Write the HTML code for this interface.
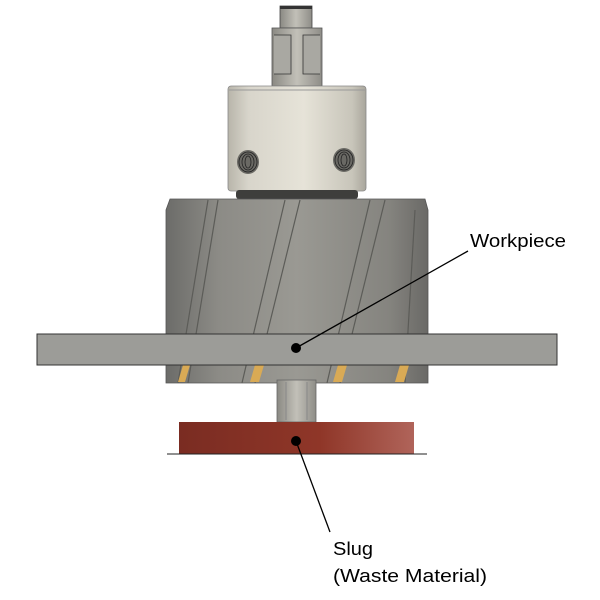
<!DOCTYPE html>
<html><head><style>body{margin:0;background:#fff}svg{display:block}</style></head><body>
<svg width="600" height="600" viewBox="0 0 600 600" xmlns="http://www.w3.org/2000/svg">
<defs>
<linearGradient id="cyl" x1="0" x2="1"><stop offset="0" stop-color="#b8b5aa"/><stop offset="0.15" stop-color="#d8d5cb"/><stop offset="0.55" stop-color="#e6e3d8"/><stop offset="0.9" stop-color="#c8c5ba"/><stop offset="1" stop-color="#a9a69c"/></linearGradient>
<linearGradient id="cut" x1="0" x2="1"><stop offset="0" stop-color="#6c6c69"/><stop offset="0.2" stop-color="#8c8b86"/><stop offset="0.5" stop-color="#9a9993"/><stop offset="0.85" stop-color="#85847f"/><stop offset="1" stop-color="#6a6966"/></linearGradient>
<linearGradient id="slug" x1="0" x2="1"><stop offset="0" stop-color="#7a2c22"/><stop offset="0.6" stop-color="#8f3628"/><stop offset="1" stop-color="#b0645a"/></linearGradient>
<linearGradient id="nut" x1="0" x2="1"><stop offset="0" stop-color="#8a8983"/><stop offset="0.5" stop-color="#c2c0b8"/><stop offset="1" stop-color="#8e8d87"/></linearGradient>
</defs>
<rect x="280" y="6" width="32" height="22" fill="url(#nut)" stroke="#444" stroke-width="0.8"/>
<rect x="280" y="6" width="32" height="3" fill="#333"/>
<rect x="272" y="28" width="50" height="58" fill="url(#nut)" stroke="#555" stroke-width="0.8"/>
<path d="M274 35 L291 35 L291 74 L274 74" fill="#a9a8a2" stroke="#333" stroke-width="0.8"/>
<path d="M320 35 L303 35 L303 74 L320 74" fill="#a9a8a2" stroke="#333" stroke-width="0.8"/>
<rect x="228" y="86" width="138" height="105" rx="3" fill="url(#cyl)" stroke="#888" stroke-width="0.8"/>
<line x1="229" y1="90" x2="365" y2="90" stroke="#999"/>
<ellipse cx="248" cy="162" rx="11" ry="12" fill="#6a6964"/>
<ellipse cx="344" cy="160" rx="11" ry="12" fill="#6a6964"/>
<g stroke="#222" stroke-width="0.8" fill="none">
<ellipse cx="248" cy="162" rx="9" ry="10"/><ellipse cx="248" cy="162" rx="6" ry="8"/><ellipse cx="248" cy="162" rx="3" ry="6"/>
<ellipse cx="344" cy="160" rx="9" ry="10"/><ellipse cx="344" cy="160" rx="6" ry="8"/><ellipse cx="344" cy="160" rx="3" ry="6"/>
</g>
<rect x="236" y="190" width="122" height="9" rx="3" fill="#3e3e3c"/>
<path d="M170 199 L425 199 L428 210 L428 383 L166 383 L166 210 Z" fill="url(#cut)" stroke="#555" stroke-width="0.8"/>
<g stroke="#5c5c58" stroke-width="1.2" fill="none">
<path d="M208 200 L178 383"/><path d="M218 200 L188 383"/>
<path d="M285 200 L242 383"/><path d="M300 200 L255 383"/>
<path d="M370 200 L327 383"/><path d="M385 200 L340 383"/>
<path d="M415 210 L405 383"/>
</g>
<g fill="#d9aa55">
<polygon points="183,365 190,365 185,382 178,382"/><polygon points="255,365 264,365 259,382 250,382"/>
<polygon points="338,365 347,365 342,382 333,382"/><polygon points="400,365 409,365 404,382 395,382"/>
</g>
<rect x="277" y="380" width="39" height="42" fill="url(#nut)" stroke="#666" stroke-width="0.8"/>
<line x1="286" y1="382" x2="286" y2="420" stroke="#888"/><line x1="307" y1="382" x2="307" y2="420" stroke="#888"/>
<rect x="37" y="334" width="520" height="31" fill="#9c9c98" stroke="#333" stroke-width="1"/>
<rect x="179" y="422" width="235" height="32" fill="url(#slug)"/>
<line x1="167" y1="454" x2="427" y2="454" stroke="#222" stroke-width="1"/>
<line x1="296" y1="348" x2="468" y2="251" stroke="#000" stroke-width="1.3"/>
<circle cx="296" cy="348" r="5" fill="#000"/>
<line x1="296" y1="441" x2="330" y2="532" stroke="#000" stroke-width="1.3"/>
<circle cx="296" cy="441" r="5" fill="#000"/>
<g font-family="Liberation Sans, sans-serif" font-size="18" fill="#000">
<text x="470" y="247" textLength="96" lengthAdjust="spacingAndGlyphs">Workpiece</text>
<text x="333" y="555" textLength="40" lengthAdjust="spacingAndGlyphs">Slug</text>
<text x="333" y="582" textLength="154" lengthAdjust="spacingAndGlyphs">(Waste Material)</text>
</g>
</svg>
</body></html>
